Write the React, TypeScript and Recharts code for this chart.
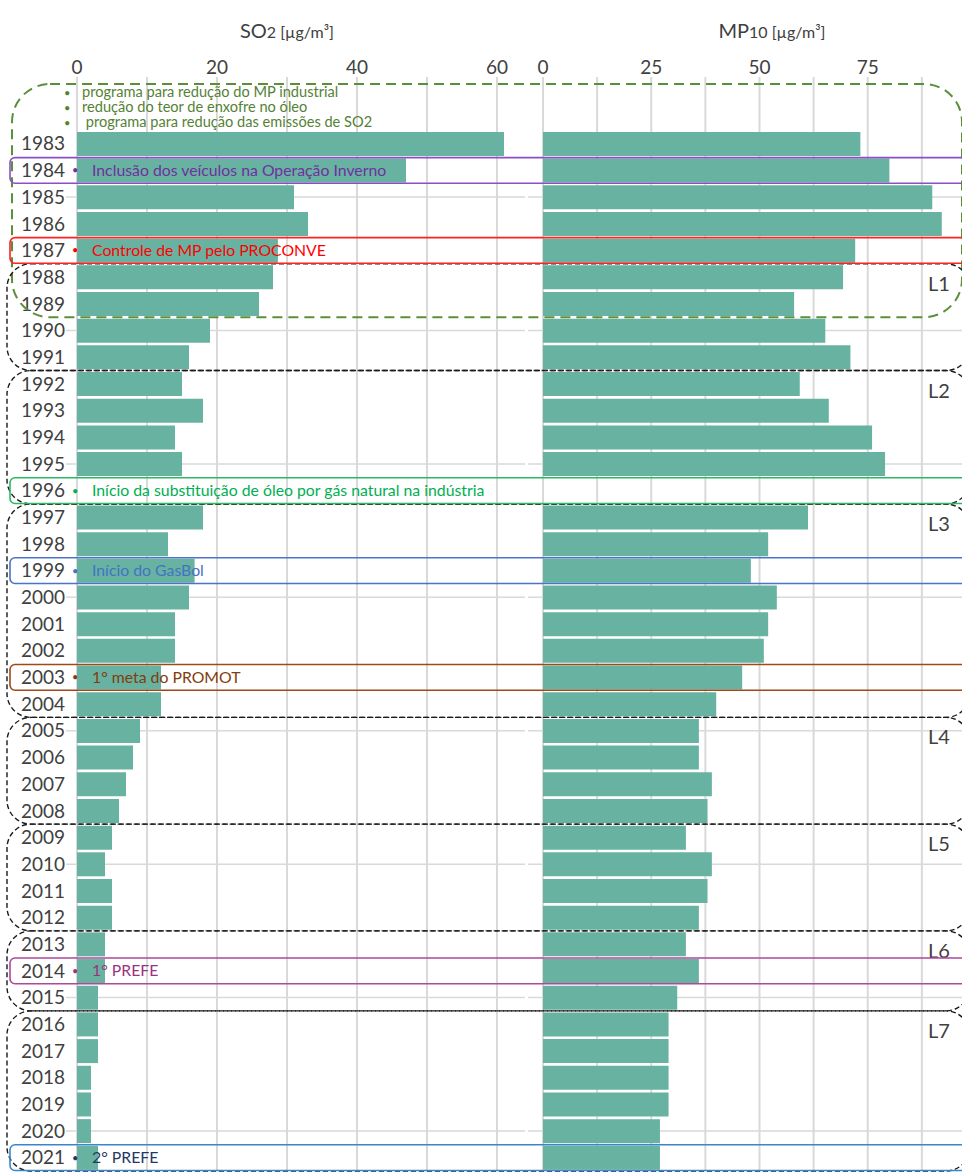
import React from 'react';
import { BarChart, Bar, XAxis, YAxis, CartesianGrid } from 'recharts';

const years = [
  '1983', '1984', '1985', '1986', '1987', '1988', '1989', '1990', '1991', '1992',
  '1993', '1994', '1995', '1996', '1997', '1998', '1999', '2000', '2001', '2002',
  '2003', '2004', '2005', '2006', '2007', '2008', '2009', '2010', '2011', '2012',
  '2013', '2014', '2015', '2016', '2017', '2018', '2019', '2020', '2021',
];

// SO2 [ug/m3]
const so2 = [
  61, 47, 31, 33, 28.7, 28, 26, 19, 16, 15,
  18, 14, 15, null, 18, 13, 16.8, 16, 14, 14,
  12, 12, 9, 8, 7, 6, 5, 4, 5, 5,
  4, 4, 3, 3, 3, 2, 2, 2, 3,
];

// MP10 [ug/m3]
const mp10 = [
  73.3, 80, 89.9, 92.1, 72.1, 69.3, 58, 65.2, 71, 59.3,
  66, 76, 79, null, 61.2, 52, 48, 54, 52, 51,
  46, 40, 36, 36, 39, 38, 33, 39, 38, 36,
  33, 36, 31, 29, 29, 29, 29, 27, 27,
];

const so2Ticks = [0, 10, 20, 30, 40, 50, 60];
const mp10Ticks = [0, 12.5, 25, 37.5, 50, 62.5, 75, 87.5];
const gridYears = ['1985', '1990', '1995', '2000', '2005', '2010', '2015', '2020'];

const topNotes = [
  'programa para redução do MP industrial',
  'redução do teor de enxofre no óleo',
  ' programa para redução das emissões de SO2',
];

const events = [
  { year: '1984', text: 'Inclusão dos veículos na Operação Inverno', box: '#8a4fc6', color: '#7030a0' },
  { year: '1987', text: 'Controle de MP pelo PROCONVE', box: '#ff2020', color: '#ff0000' },
  { year: '1996', text: 'Início da substituição de óleo por gás natural na indústria', box: '#2cb860', color: '#00b050' },
  { year: '1999', text: 'Início do GasBol', box: '#4a74c8', color: '#4472c4' },
  { year: '2003', text: '1° meta do PROMOT', box: '#9c4a1a', color: '#843c0c' },
  { year: '2014', text: '1° PREFE', box: '#b0489a', color: '#993380' },
  { year: '2021', text: '2° PREFE', box: '#3a86cc', color: '#1f3864' },
];

const phases = [
  { label: 'L1', from: '1988', to: '1991' },
  { label: 'L2', from: '1992', to: '1996' },
  { label: 'L3', from: '1997', to: '2004' },
  { label: 'L4', from: '2005', to: '2008' },
  { label: 'L5', from: '2009', to: '2012' },
  { label: 'L6', from: '2013', to: '2015' },
  { label: 'L7', from: '2016', to: '2021' },
];

const W = 962;
const H = 1175;
const PLOT_TOP = 77;
const MARGIN_BOTTOM = 4;
const PAD_TOP = 53.4;
const BAND = (H - MARGIN_BOTTOM - PLOT_TOP - PAD_TOP) / years.length;
const FONT = 'Lato, "Liberation Sans", sans-serif';
const BAR = '#67b2a1';
const GRID = '#d9d9d9';
const TEXT = '#404040';

const rowTop = (y: string) => PLOT_TOP + PAD_TOP + years.indexOf(y) * BAND;
const rowLines = gridYears.map((y) => rowTop(y) + BAND / 2);

const App = () => {
  const data = years.map((year, i) => ({ year, so2: so2[i], mp10: mp10[i] }));

  return (
    <div style={{ position: 'absolute', left: 0, top: 0, width: W, height: H, overflow: 'hidden', background: '#fff', fontFamily: FONT }}>
      <div style={{ position: 'absolute', left: 0, top: 0 }}>
        <BarChart layout="vertical" width={528} height={H} data={data}
          margin={{ top: 0, right: 3, bottom: MARGIN_BOTTOM, left: 0 }} barCategoryGap={1.5}>
          <CartesianGrid horizontal={false} syncWithTicks stroke={GRID} strokeWidth={2} />
          <CartesianGrid vertical={false} horizontalPoints={rowLines} stroke={GRID} strokeWidth={1.5} />
          <XAxis type="number" orientation="top" domain={[0, 64]} ticks={so2Ticks}
            tickFormatter={(v: number) => (v % 20 === 0 ? String(v) : '')}
            height={PLOT_TOP} axisLine={false} tickLine={false} tickSize={0} tickMargin={3}
            padding={{ left: 11, right: 0 }} tick={{ fill: TEXT, fontSize: 19 }} />
          <YAxis type="category" dataKey="year" width={66} interval={0} axisLine={false}
            tickLine={false} tickSize={0} tickMargin={1} padding={{ top: PAD_TOP, bottom: 0 }}
            tick={{ fill: TEXT, fontSize: 19 }} />
          <Bar dataKey="so2" fill={BAR} isAnimationActive={false} />
        </BarChart>
      </div>

      <div style={{ position: 'absolute', left: 528, top: 0 }}>
        <BarChart layout="vertical" width={435} height={H} data={data}
          margin={{ top: 0, right: 0, bottom: MARGIN_BOTTOM, left: 0 }} barCategoryGap={1.5}>
          <CartesianGrid horizontal={false} syncWithTicks stroke={GRID} strokeWidth={2} />
          <CartesianGrid vertical={false} horizontalPoints={rowLines} stroke={GRID} strokeWidth={1.5} />
          <XAxis type="number" orientation="top" domain={[0, 97]} ticks={mp10Ticks}
            tickFormatter={(v: number) => (v % 25 === 0 ? String(v) : '')}
            height={PLOT_TOP} axisLine={false} tickLine={false} tickSize={0} tickMargin={3}
            padding={{ left: 15, right: 0 }} tick={{ fill: TEXT, fontSize: 19 }} />
          <YAxis type="category" dataKey="year" hide padding={{ top: PAD_TOP, bottom: 0 }} />
          <Bar dataKey="mp10" fill={BAR} isAnimationActive={false} />
        </BarChart>
      </div>

      <svg style={{ position: 'absolute', left: 0, top: 0 }} width={W} height={H}>
        {/* titles */}
        <text x={287} y={38} textAnchor="middle" fill={TEXT} fontSize={20}>
          SO<tspan fontSize={16}>2 [µg/m³]</tspan>
        </text>
        <text x={772} y={38} textAnchor="middle" fill={TEXT} fontSize={20}>
          MP<tspan fontSize={16}>10 [µg/m³]</tspan>
        </text>

        {/* first programmes */}
        <rect x={12} y={84} width={950} height={rowTop('1990') - 84} rx={38}
          fill="none" stroke="#5b8f3a" strokeWidth={2} strokeDasharray="10 6" />
        {topNotes.map((t, i) => (
          <g key={i} fill="#548235" fontSize={14.6}>
            <text x={64} y={97 + i * 15} fontSize={11}>•</text>
            <text x={82} y={97 + i * 15} style={{ whiteSpace: 'pre' }}>{t}</text>
          </g>
        ))}

        {/* phases */}
        {phases.map((p) => {
          const y0 = rowTop(p.from);
          const y1 = rowTop(p.to) + BAND;
          return (
            <g key={p.label}>
              <rect x={7} y={y0} width={963} height={y1 - y0} rx={24}
                fill="none" stroke="#1a1a1a" strokeWidth={1.4} strokeDasharray="5 3" />
              <text x={928} y={y0 + 27} fill={TEXT} fontSize={20}>{p.label}</text>
            </g>
          );
        })}

        {/* events */}
        {events.map((e) => {
          const y0 = rowTop(e.year);
          return (
            <g key={e.year}>
              <rect x={10} y={y0 + 0.5} width={980} height={BAND - 1} rx={5}
                fill="none" stroke={e.box} strokeWidth={1.6} />
              <text x={72} y={y0 + BAND / 2 + 4} fill={e.color} fontSize={11}>•</text>
              <text x={92} y={y0 + BAND / 2 + 5.5} fill={e.color} fontSize={15.8}>{e.text}</text>
            </g>
          );
        })}
      </svg>
    </div>
  );
};

export default App;
